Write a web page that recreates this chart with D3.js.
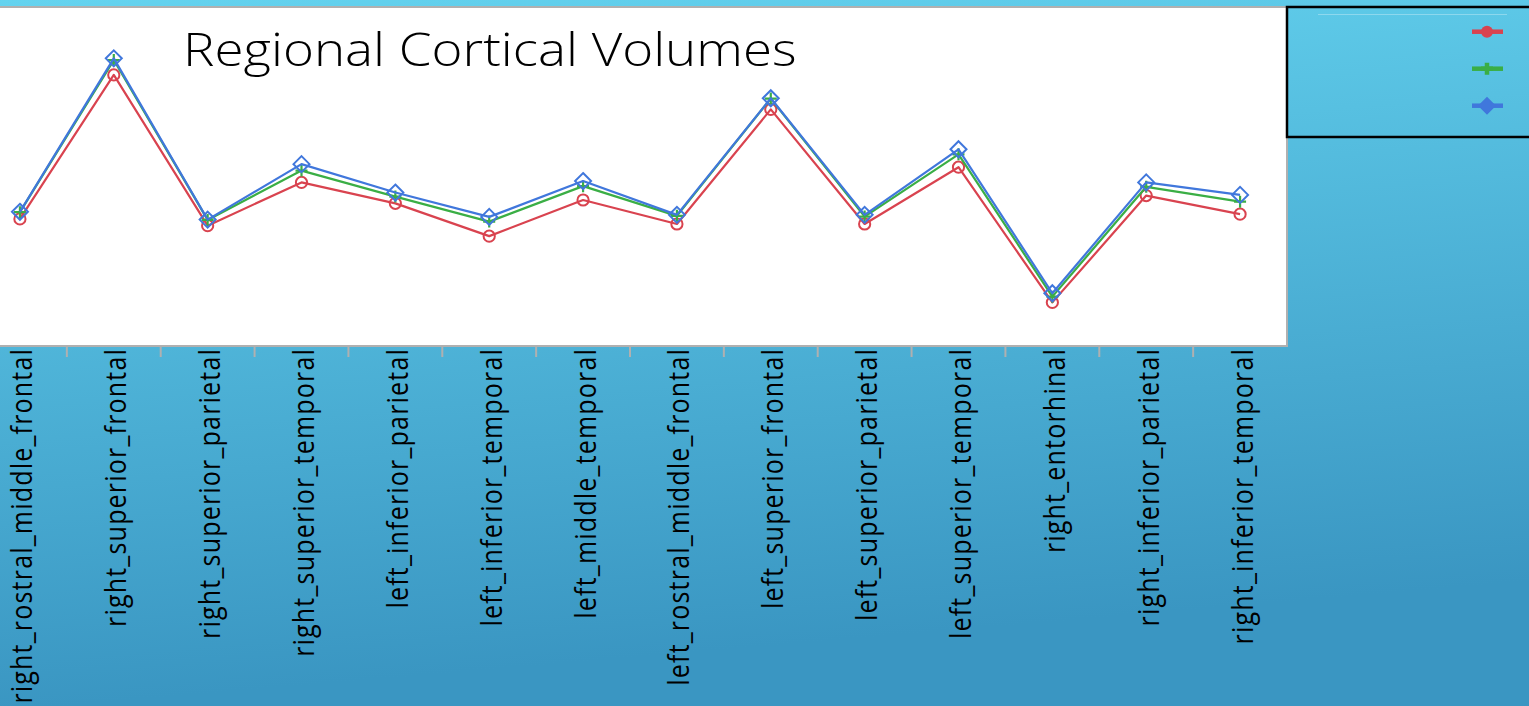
<!DOCTYPE html>
<html>
<head>
<meta charset="utf-8">
<script src="https://cdn.jsdelivr.net/npm/d3@7"></script>
<style>
  html, body { margin: 0; padding: 0; overflow: hidden; }
  svg { display: block; }
</style>
</head>
<body>
<svg id="chart" width="1529" height="706"></svg>
<script>
// Cortical regions along the x axis
const regions = [
  "right_rostral_middle_frontal",
  "right_superior_frontal",
  "right_superior_parietal",
  "right_superior_temporal",
  "left_inferior_parietal",
  "left_inferior_temporal",
  "left_middle_temporal",
  "left_rostral_middle_frontal",
  "left_superior_frontal",
  "left_superior_parietal",
  "left_superior_temporal",
  "right_entorhinal",
  "right_inferior_parietal",
  "right_inferior_temporal"
];

// Volume series (arbitrary units)
const seriesRed   = [37.6, 80.2, 35.6, 48.4, 42.2, 32.5, 43.2, 36.1, 70.0, 36.1, 52.9, 12.9, 44.5, 39.0];
const seriesGreen = [39.6, 84.6, 37.3, 51.9, 44.2, 36.8, 47.3, 38.5, 73.2, 38.3, 56.7, 14.6, 47.1, 42.7];
const seriesBlue  = [39.7, 85.1, 37.4, 53.8, 45.4, 38.2, 48.8, 38.8, 73.3, 38.8, 58.2, 15.6, 48.4, 44.7];

const yDomain = [0, 100];
const titleText = "Regional Cortical Volumes";

const series = [
  { values: seriesRed,   color: "#d9434f", marker: "circle"  },
  { values: seriesGreen, color: "#3aae45", marker: "plus"    },
  { values: seriesBlue,  color: "#4077dc", marker: "diamond" }
];

const W = 1529, H = 706;
const plot = { left: -27, right: 1287, top: 7, bottom: 346 };
const textStretch = 1.13;   // wide text face, stretched horizontally

const svg = d3.select("#chart");

// background gradient
const defs = svg.append("defs");
const grad = defs.append("linearGradient")
  .attr("id", "bg").attr("gradientUnits", "userSpaceOnUse")
  .attr("x1", 0).attr("y1", 0).attr("x2", 60).attr("y2", H);
grad.append("stop").attr("offset", 0).attr("stop-color", "#64d3ef");
grad.append("stop").attr("offset", 1).attr("stop-color", "#3a96c2");

svg.append("rect").attr("width", W).attr("height", H).attr("fill", "url(#bg)");

const x = d3.scaleBand().domain(regions).range([plot.left, plot.right]).paddingInner(0).paddingOuter(0);
const y = d3.scaleLinear().domain(yDomain).range([plot.bottom, plot.top + 1]);

// plot area
svg.append("rect")
  .attr("x", plot.left).attr("y", plot.top)
  .attr("width", plot.right - plot.left).attr("height", plot.bottom - plot.top)
  .attr("fill", "#ffffff").attr("stroke", "#b0b0b0").attr("stroke-width", 2);

// category ticks at band boundaries
svg.append("g").selectAll("line")
  .data(regions.slice(0, -1))
  .join("line")
  .attr("x1", d => x(d) + x.bandwidth()).attr("x2", d => x(d) + x.bandwidth())
  .attr("y1", plot.bottom).attr("y2", plot.bottom + 11)
  .attr("stroke", "#b0b0b0").attr("stroke-width", 2);

// rotated category labels
const xAxis = svg.append("g")
  .attr("transform", `translate(0,${plot.bottom})`)
  .call(d3.axisBottom(x).tickSize(0).tickPadding(0));
xAxis.select(".domain").remove();
xAxis.selectAll("text")
  .attr("font-family", "'Open Sans', 'Noto Sans', sans-serif")
  .attr("font-size", 25)
  .attr("letter-spacing", 1.2)
  .attr("fill", "#000")
  .attr("text-anchor", "end")
  .attr("transform", `scale(${textStretch},1) rotate(-90)`)
  .attr("x", -2)
  .attr("y", 11)
  .attr("dy", 0);

// lines and markers
const line = d3.line().x((d, i) => x(regions[i]) + x.bandwidth() / 2).y(d => y(d));

series.forEach(s => {
  const g = svg.append("g");
  g.append("path")
    .attr("d", line(s.values))
    .attr("fill", "none").attr("stroke", s.color).attr("stroke-width", 2.2)
    .attr("stroke-linejoin", "round");
  const pts = g.selectAll("g.m").data(s.values).join("g")
    .attr("transform", (d, i) => `translate(${x(regions[i]) + x.bandwidth() / 2},${y(d)})`);
  if (s.marker === "circle") {
    pts.append("circle").attr("r", 5.6).attr("fill", "none").attr("stroke", s.color).attr("stroke-width", 2);
  } else if (s.marker === "plus") {
    pts.append("path").attr("d", "M-6,0H6M0,-6V6").attr("stroke", s.color).attr("stroke-width", 2.2);
  } else {
    pts.append("path").attr("d", "M0,-8L8,0L0,8L-8,0Z").attr("fill", "none").attr("stroke", s.color).attr("stroke-width", 2);
  }
});

// title
svg.append("text")
  .attr("transform", `translate(183,66) scale(${textStretch},1)`)
  .attr("font-family", "'Open Sans', sans-serif")
  .attr("font-weight", 300)
  .attr("font-size", 46.8)
  .attr("fill", "#000")
  .text(titleText);

// legend box
const legend = svg.append("g");
legend.append("rect")
  .attr("x", 1287).attr("y", 7).attr("width", 260).attr("height", 130)
  .attr("fill", "url(#bg)").attr("stroke", "#000").attr("stroke-width", 2.5);
legend.append("line")
  .attr("x1", 1318).attr("x2", 1507).attr("y1", 14.5).attr("y2", 14.5)
  .attr("stroke", "rgba(255,255,255,0.3)").attr("stroke-width", 1);

const legendMarker = {
  circle: "M-6,0A6,6 0 1,0 6,0A6,6 0 1,0 -6,0Z",
  plus: "M-6,0H6M0,-6V6",
  diamond: "M0,-9L9,0L0,9L-9,0Z"
};
const ly = d3.scalePoint().domain(series.map((s, i) => i)).range([31.7, 105.7]);
series.forEach((s, i) => {
  const g = legend.append("g").attr("transform", `translate(1487,${ly(i)})`);
  g.append("line").attr("x1", -15).attr("x2", 16).attr("stroke", s.color).attr("stroke-width", 4.5);
  if (s.marker === "plus") {
    g.append("path").attr("d", legendMarker.plus).attr("stroke", s.color).attr("stroke-width", 4.5);
  } else {
    g.append("path").attr("d", legendMarker[s.marker]).attr("fill", s.color);
  }
});
</script>
</body>
</html>
